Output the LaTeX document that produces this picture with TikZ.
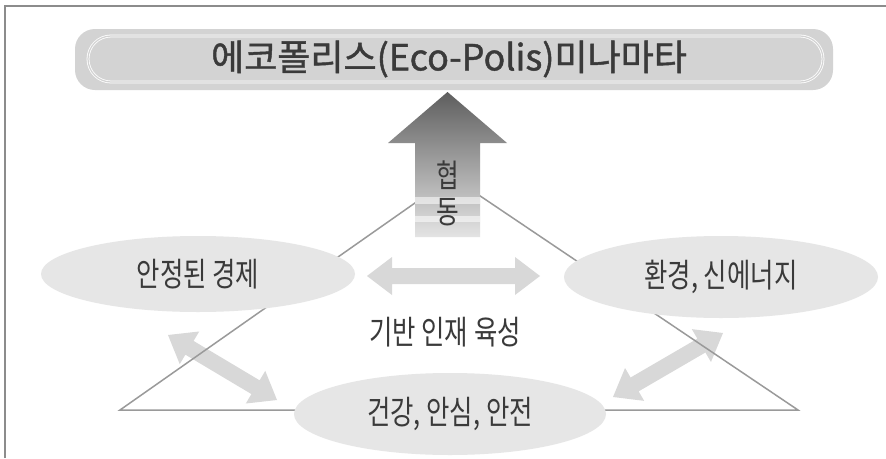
\documentclass[tikz,border=0pt]{standalone}
\usepackage{fontspec}
\newfontfamily\kr[FakeStretch=0.77]{Noto Sans CJK KR}
\newfontfamily\krt[FakeBold=1.2]{Noto Sans CJK KR}
\usetikzlibrary{shapes.geometric,calc}
\definecolor{framegray}{HTML}{8C8C8C}
\definecolor{barfill}{HTML}{D3D3D3}
\definecolor{ellfill}{HTML}{E6E6E6}
\definecolor{arrfill}{HTML}{D8D8D8}
\definecolor{linegray}{HTML}{9A9A9A}
\definecolor{txt}{HTML}{3A3A3A}
\definecolor{uptop}{HTML}{5E5E5E}
\definecolor{upbot}{HTML}{E4E4E4}
\newcommand\dblarrowshape[2]{%
  \fill[arrfill] (#1)
    -- ($(#1)!25pt!(#2)!19pt!90:(#2)$) -- ($(#1)!25pt!(#2)!8pt!90:(#2)$)
    -- ($(#2)!25pt!(#1)!8pt!-90:(#1)$) -- ($(#2)!25pt!(#1)!19pt!-90:(#1)$)
    -- (#2)
    -- ($(#2)!25pt!(#1)!19pt!90:(#1)$) -- ($(#2)!25pt!(#1)!8pt!90:(#1)$)
    -- ($(#1)!25pt!(#2)!8pt!-90:(#2)$) -- ($(#1)!25pt!(#2)!19pt!-90:(#2)$)
    -- cycle;}
\tikzset{
  ellnode/.style={ellipse, fill=ellfill, inner sep=0pt, text=txt, font=\kr\fontsize{33}{38}\selectfont},
  lbl/.style={text=txt, inner sep=0pt, font=\kr\fontsize{33}{38}\selectfont},
  trianglestyle/.style={draw=linegray, line width=1.5pt, line join=miter},
}
\begin{document}
\begin{tikzpicture}[x=1pt,y=-1pt]
\useasboundingbox (0,0) rectangle (886,458);
\fill[white] (0,0) rectangle (886,458);
% frame
\coordinate (fbl) at (5,458);
\coordinate (ftl) at (5,6);
\coordinate (ftr) at (886,6);
\draw[framegray, line width=2pt] (fbl) -- (ftl) -- (ftr);
% title bar
\node[rectangle, rounded corners=20pt, fill=barfill, minimum width=758pt, minimum height=61pt, inner sep=0pt] (bar) at (454,59.5) {};
\node[rectangle, rounded corners=23pt, draw=white, line width=0.8pt, double=barfill, double distance=1.2pt, minimum width=735pt, minimum height=46pt, inner sep=0pt] (barin) at (455.5,59) {};
\node[text=txt, inner sep=0pt, font=\krt\fontsize{36}{42}\selectfont] (title) at (449,59) {에코폴리스(Eco-Polis)미나마타};
% arrow end coordinates
\coordinate (l1) at (168,335);
\coordinate (l2) at (277,400);
\coordinate (r1) at (723,333);
\coordinate (r2) at (613,397);
\coordinate (h1) at (367,276);
\coordinate (h2) at (540,276);
\dblarrowshape{l1}{l2}
\dblarrowshape{r1}{r2}
% triangle
\coordinate (tl) at (120,410);
\coordinate (tr) at (798,410);
\coordinate (apex) at (452,177);
\draw[trianglestyle] (tl) -- (apex) -- (tr) -- cycle;
% ellipses
\node[ellnode, minimum width=314pt, minimum height=76pt] (econ) at (198,274) {안정된 경제};
\node[ellnode, minimum width=314pt, minimum height=82pt] (env) at (721,277) {환경, 신에너지};
\node[ellnode, minimum width=312pt, minimum height=82pt] (health) at (450,414) {건강, 안심, 안전};
\node[lbl] (hr) at (445,332) {기반 인재 육성};
\dblarrowshape{h1}{h2}
% up arrow
\coordinate (uptip) at (447.5,92);
\shade[top color=uptop, bottom color=upbot]
  (uptip) -- (507,143) -- (480,143) -- (480,237) -- (415,237) -- (415,143) -- (388,143) -- cycle;
\fill[white, opacity=0.55] (415,197) rectangle (480,204);
\fill[white, opacity=0.55] (415,216) rectangle (480,222);
\node[lbl, font=\kr\fontsize{32}{34}\selectfont] (hyeop) at (447.5,175) {협};
\node[lbl, font=\kr\fontsize{32}{34}\selectfont] (dong) at (447.5,212) {동};
\end{tikzpicture}
\end{document}
